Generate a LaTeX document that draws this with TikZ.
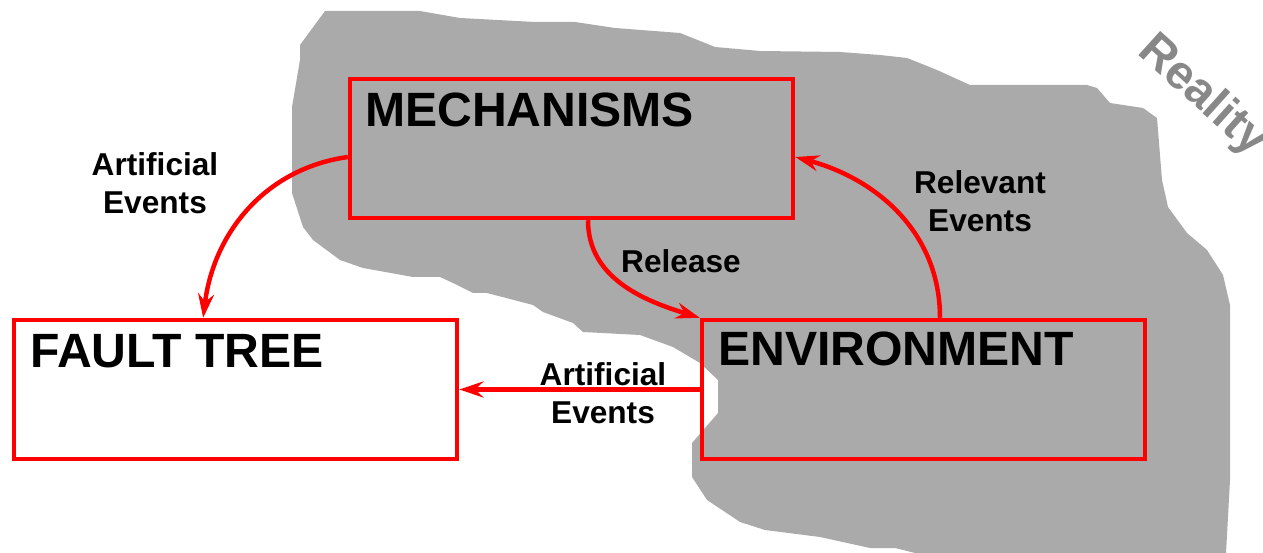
\documentclass[tikz,border=0pt]{standalone}
\usepackage{fontspec}
\setmainfont{Liberation Sans}
\usepackage{xcolor}
\usetikzlibrary{arrows.meta, positioning}

\definecolor{realityfill}{RGB}{170,170,170}
\definecolor{realitytext}{RGB}{136,136,136}

\begin{document}
\begin{tikzpicture}[
    x=0.02cm, y=0.02cm,
    box/.style={rectangle, draw=red, line width=0.09cm, minimum width=8.86cm, minimum height=2.78cm, inner sep=0},
    title/.style={font=\fontsize{27.4}{30}\selectfont\bfseries, inner sep=0, anchor=north west},
    lbl/.style={font=\fontsize{18}{21.5}\selectfont\bfseries, align=center, inner sep=0},
    arrow/.style={->, >={Stealth[length=0.48cm, width=0.32cm, inset=0.16cm]}, draw=red, line width=0.09cm}
]
\useasboundingbox (0,0) rectangle (1263,-553);

% Reality (grey region)
\fill[realityfill] (325,-11) -- (420,-11) -- (460,-18) -- (535,-22) -- (575,-22) -- (615,-28)
  -- (680,-33) -- (715,-47) -- (760,-51) -- (840,-52) -- (880,-55) -- (907,-58) -- (937,-70)
  -- (970,-85) -- (1087,-85) -- (1097,-88) -- (1110,-103) -- (1143,-108) -- (1157,-118)
  -- (1162,-180) -- (1168,-207) -- (1187,-233) -- (1207,-250) -- (1223,-275) -- (1230,-305)
  -- (1230,-480) -- (1226,-553) -- (915,-553) -- (895,-548) -- (870,-548) -- (820,-537)
  -- (765,-530) -- (740,-522) -- (707,-500) -- (692,-477) -- (692,-443) -- (718,-413)
  -- (718,-380) -- (700,-363) -- (673,-347) -- (640,-335) -- (583,-332) -- (573,-323)
  -- (543,-312) -- (533,-305) -- (487,-293) -- (473,-293) -- (453,-283) -- (440,-277)
  -- (413,-277) -- (363,-268) -- (340,-260) -- (313,-240) -- (303,-227) -- (292,-193)
  -- (292,-107) -- (300,-60) -- (300,-45) -- cycle;
\node[font=\fontsize{27}{30}\selectfont\bfseries, text=realitytext, inner sep=0, rotate=-42, anchor=base west] (reality) at (1136,-53) {Reality};

% Boxes
\node[box] (mech) at (571.5,-148.5) {};
\node[box] (env) at (923.5,-389.5) {};
\node[box, fill=white, left=4.81cm of env] (ft) {};

\node[title] (mechtitle) at ([shift={(17,-16)}]mech.north west) {MECHANISMS};
\node[title] (fttitle) at ([shift={(18,-16)}]ft.north west) {FAULT TREE};
\node[title] (envtitle) at ([shift={(18,-14)}]env.north west) {ENVIRONMENT};

% Labels
\node[lbl] (artup) at (155,-183) {Artificial\\Events};
\node[lbl] (release) at (681,-261) {Release};
\node[lbl] (relevant) at (980,-201) {Relevant\\Events};
\node[lbl] (artdown) at (603,-393) {Artificial\\Events};

% Arrows
\draw[arrow] ([yshift=-0.17cm]mech.west) to[out=188, in=83] ([xshift=-0.65cm]ft.north);
\draw[arrow] ([xshift=0.33cm]mech.south) to[out=-90, in=163] (env.north west);
\draw[arrow] ([xshift=0.33cm]env.north) to[out=90, in=-15] ([yshift=-0.17cm]mech.east);
\draw[arrow] (env.west) -- (ft.east);

\end{tikzpicture}
\end{document}
